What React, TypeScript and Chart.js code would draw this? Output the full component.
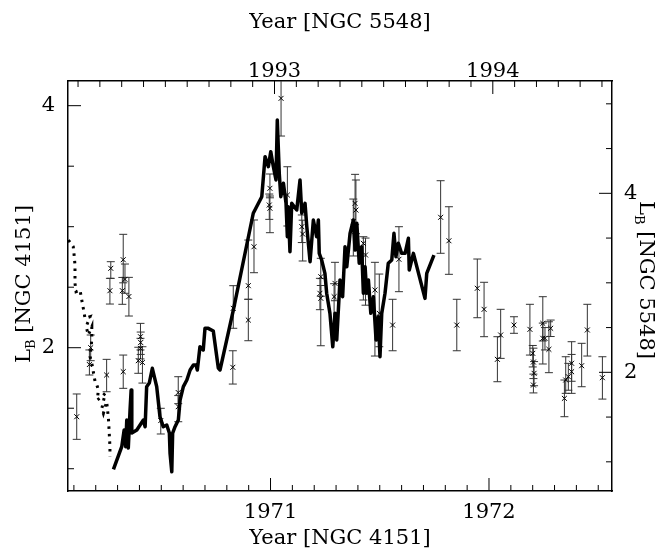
import React, { useEffect, useRef } from "react";
import { Chart, registerables } from "chart.js";

Chart.register(...registerables);

const FONT = "'DejaVu Serif', serif";
const FS = 21;

// NGC 4151 light curve (bottom / left axes)
const lineYears = [
  1970.281, 1970.319, 1970.33, 1970.337, 1970.342, 1970.349, 1970.357, 1970.362, 1970.365, 1970.388,
  1970.418, 1970.426, 1970.433, 1970.445, 1970.459, 1970.479, 1970.494, 1970.509, 1970.525, 1970.537,
  1970.54, 1970.548, 1970.552, 1970.563, 1970.578, 1970.586, 1970.601, 1970.617, 1970.632, 1970.647,
  1970.659, 1970.665, 1970.677, 1970.692, 1970.7, 1970.715, 1970.738, 1970.761, 1970.769, 1970.83,
  1970.921, 1970.96, 1970.975, 1970.99, 1971.001, 1971.013, 1971.025, 1971.031, 1971.04, 1971.047,
  1971.059, 1971.071, 1971.077, 1971.081, 1971.089, 1971.097, 1971.12, 1971.135, 1971.143, 1971.158,
  1971.166, 1971.181, 1971.196, 1971.211, 1971.219, 1971.223, 1971.234, 1971.249, 1971.257, 1971.272,
  1971.285, 1971.295, 1971.303, 1971.318, 1971.33, 1971.341, 1971.349, 1971.364, 1971.379, 1971.387,
  1971.395, 1971.406, 1971.417, 1971.425, 1971.433, 1971.44, 1971.448, 1971.459, 1971.471, 1971.483,
  1971.493, 1971.501, 1971.509, 1971.524, 1971.539, 1971.555, 1971.565, 1971.574, 1971.585, 1971.6,
  1971.616, 1971.631, 1971.635, 1971.654, 1971.707, 1971.715, 1971.748,
];
const lineLum = [
  0.995, 1.182, 1.32, 1.182, 1.402, 1.171, 1.485, 1.65, 1.295, 1.32,
  1.402, 1.347, 1.678, 1.708, 1.83, 1.678, 1.43, 1.347, 1.361, 1.295,
  1.13, 0.975, 1.295, 1.347, 1.402, 1.568, 1.678, 1.733, 1.816, 1.857,
  1.857, 1.816, 2.008, 1.981, 2.16, 2.16, 2.138, 1.832, 1.816, 2.312,
  3.111, 3.248, 3.579, 3.496, 3.62, 3.496, 3.386, 3.882, 3.441, 3.248,
  3.359, 3.193, 2.917, 3.165, 2.793, 3.193, 3.138, 3.386, 3.111, 3.193,
  3.0, 2.711, 3.055, 2.917, 3.055, 2.78, 2.725, 2.615, 2.45, 2.284,
  2.008, 2.284, 2.064, 2.56, 2.421, 2.835, 2.669, 2.945, 3.055, 2.807,
  3.028, 2.698, 2.835, 2.45, 2.669, 2.45, 2.56, 2.284, 2.421, 2.064,
  2.256, 1.926, 2.284, 2.45, 2.698, 2.725, 2.945, 2.752, 2.863, 2.78,
  2.78, 2.904, 2.642, 2.78, 2.408, 2.615, 2.766,
];

// early dotted segment (bottom / left axes)
const dotYears = [
  1970.075, 1970.097, 1970.101, 1970.105, 1970.105, 1970.105, 1970.11, 1970.128, 1970.136, 1970.143,
  1970.151, 1970.174, 1970.156, 1970.166, 1970.182, 1970.182, 1970.174, 1970.182, 1970.197, 1970.205,
  1970.212, 1970.207, 1970.228, 1970.243, 1970.228, 1970.235, 1970.25, 1970.258, 1970.261, 1970.265,
  1970.265,
];
const dotLum = [
  2.89, 2.835, 2.766, 2.683, 2.615, 2.532, 2.463, 2.477, 2.394, 2.326,
  2.243, 2.256, 2.174, 2.105, 2.174, 2.064, 1.926, 1.871, 1.719, 1.692,
  1.65, 1.568, 1.595, 1.623, 1.499, 1.458, 1.554, 1.417, 1.32, 1.182,
  1.099,
];

// NGC 5548 points with error bars (top / right axes)
const ptYears = [
  1992.094, 1992.158, 1992.152, 1992.231, 1992.25, 1992.246, 1992.307, 1992.307, 1992.315, 1992.303,
  1992.333, 1992.386, 1992.387, 1992.376, 1992.395, 1992.386, 1992.479, 1992.559, 1992.559, 1992.809,
  1992.811, 1992.88, 1992.88, 1992.906, 1992.979, 1992.976, 1992.979, 1993.03, 1993.059, 1993.125,
  1993.129, 1993.212, 1993.208, 1993.212, 1993.277, 1993.273, 1993.369, 1993.373, 1993.361, 1993.407,
  1993.417, 1993.46, 1993.48, 1993.541, 1993.57, 1993.761, 1993.799, 1993.835, 1993.929, 1993.96,
  1994.021, 1994.036, 1994.097, 1994.17, 1994.183, 1994.186, 1994.189, 1994.186, 1994.229, 1994.229,
  1994.239, 1994.257, 1994.265, 1994.328, 1994.334, 1994.346, 1994.361, 1994.361, 1994.407, 1994.433,
  1994.502,
];
const ptLum = [
  1.504, 2.275, 2.087, 1.97, 3.162, 2.912, 2.007, 3.258, 3.039, 2.912,
  2.847, 2.398, 2.333, 2.13, 2.11, 2.268, 1.461, 1.774, 1.616, 2.056,
  2.715, 2.968, 2.584, 3.403, 4.056, 3.869, 3.833, 5.061, 3.981, 3.627,
  3.545, 3.068, 2.883, 2.827, 2.994, 2.845, 3.888, 3.813, 3.683, 3.441,
  3.311, 2.92, 2.659, 2.528, 3.263, 3.732, 3.47, 2.528, 2.939, 2.704,
  2.145, 2.417, 2.528, 2.48, 2.212, 2.115, 1.989, 1.858, 2.547, 2.38,
  2.38, 2.257, 2.492, 1.709, 1.914, 1.951, 2.101, 2.007, 2.074, 2.473,
  1.94,
];
const ptLo = [
  1.251, 2.13, 1.97, 1.783, 3.05, 2.763, 1.821, 3.0, 2.883, 2.76,
  2.629, 2.25, 2.2, 1.989, 1.88, 2.15, 1.311, 1.65, 1.448, 1.869,
  2.492, 2.816, 2.353, 3.113, 3.95, 3.709, 3.56, 4.64, 3.635, 3.45,
  3.244, 2.85, 2.7, 2.297, 2.8, 2.54, 3.65, 3.55, 3.3, 2.808,
  2.75, 2.182, 2.286, 2.241, 2.901, 3.33, 3.095, 2.241, 2.61, 2.398,
  1.895, 2.156, 2.436, 2.193, 2.06, 1.93, 1.85, 1.77, 2.35, 2.093,
  2.25, 1.996, 2.4, 1.504, 1.765, 1.8, 1.9, 1.765, 1.839, 2.182,
  1.701,
];
const ptHi = [
  1.758, 2.417, 2.25, 2.145, 3.236, 3.05, 2.193, 3.542, 3.21, 3.06,
  3.061, 2.547, 2.45, 2.28, 2.286, 2.38, 1.598, 1.951, 1.74, 2.241,
  2.968, 3.478, 2.816, 3.702, 4.216, 3.992, 3.97, 5.5, 4.297, 3.758,
  3.7, 3.274, 3.05, 2.97, 3.229, 2.99, 4.212, 4.149, 3.936, 3.515,
  3.5, 3.229, 3.098, 2.816, 3.627, 4.141, 3.85, 2.816, 3.266, 3.006,
  2.398, 2.704, 2.621, 2.76, 2.3, 2.27, 2.12, 1.98, 2.845, 2.55,
  2.5, 2.565, 2.584, 1.914, 2.174, 2.1, 2.342, 2.2, 2.324, 2.76,
  2.174,
];

// axis labels
const bottomLabels = [1971, 1972];
const topLabels = [1993, 1994];
const leftLabels = [2, 4];
const rightLabels = [2, 4];

const X_MIN = 1970.073, X_MAX = 1972.563;
const X2_MIN = 1992.054, X2_MAX = 1994.546;
const Y_MIN = 0.816, Y_MAX = 4.204;
const Y2_MIN = 0.674, Y2_MAX = 5.255;

function steps(a: number, b: number, s: number): number[] {
  const out: number[] = [];
  const n = Math.round((b - a) / s);
  for (let i = 0; i <= n; i++) out.push(+(a + i * s).toFixed(4));
  return out;
}

const bottomMinor = steps(1970.1, 1972.5, 0.1);
const topMinor = steps(1992.1, 1994.5, 0.1);
const leftMinor = steps(1.0, 4.0, 0.5);
const rightMinor = steps(1.0, 5.0, 0.5);

const frameTicks = {
  id: "frameTicks",
  afterDatasetsDraw(chart: any) {
    const { ctx, chartArea: a, scales } = chart;
    ctx.save();
    ctx.strokeStyle = "#000";
    ctx.lineWidth = 1;
    const MAJ = 13, MIN = 6;
    const isMaj = (v: number, majors: number[]) => majors.some((m) => Math.abs(m - v) < 1e-6);
    bottomMinor.forEach((v) => {
      const p = scales.x.getPixelForValue(v);
      const l = isMaj(v, bottomLabels) ? MAJ : MIN;
      ctx.beginPath(); ctx.moveTo(p, a.bottom); ctx.lineTo(p, a.bottom - l); ctx.stroke();
    });
    topMinor.forEach((v) => {
      const p = scales.x2.getPixelForValue(v);
      const l = isMaj(v, topLabels) ? MAJ : MIN;
      ctx.beginPath(); ctx.moveTo(p, a.top); ctx.lineTo(p, a.top + l); ctx.stroke();
    });
    leftMinor.forEach((v) => {
      const p = scales.y.getPixelForValue(v);
      const l = isMaj(v, leftLabels) ? MAJ : MIN;
      ctx.beginPath(); ctx.moveTo(a.left, p); ctx.lineTo(a.left + l, p); ctx.stroke();
    });
    rightMinor.forEach((v) => {
      const p = scales.y2.getPixelForValue(v);
      const l = isMaj(v, rightLabels) ? MAJ : MIN;
      ctx.beginPath(); ctx.moveTo(a.right, p); ctx.lineTo(a.right - l, p); ctx.stroke();
    });
    ctx.restore();
  },
};

const errorBars = {
  id: "errorBars",
  beforeDatasetsDraw(chart: any) {
    const { ctx, chartArea: a, scales } = chart;
    ctx.save();
    ctx.beginPath();
    ctx.rect(a.left, a.top, a.right - a.left, a.bottom - a.top);
    ctx.clip();
    ctx.strokeStyle = "#333";
    ctx.lineWidth = 1;
    ptYears.forEach((yr, i) => {
      const px = scales.x2.getPixelForValue(yr);
      const t = scales.y2.getPixelForValue(ptHi[i]);
      const b = scales.y2.getPixelForValue(ptLo[i]);
      ctx.beginPath();
      ctx.moveTo(px, t); ctx.lineTo(px, b);
      ctx.moveTo(px - 4, t); ctx.lineTo(px + 4, t);
      ctx.moveTo(px - 4, b); ctx.lineTo(px + 4, b);
      ctx.stroke();
    });
    ctx.restore();
  },
};

function drawSubTitle(ctx: any, cx: number, cy: number, rot: number, rest: string) {
  const big = `${FS}px ${FONT}`;
  const small = `13px ${FONT}`;
  ctx.save();
  ctx.translate(cx, cy);
  ctx.rotate(rot);
  ctx.fillStyle = "#000";
  ctx.textAlign = "left";
  ctx.textBaseline = "alphabetic";
  ctx.font = big;
  const wL = ctx.measureText("L").width;
  const wR = ctx.measureText(rest).width;
  ctx.font = small;
  const wB = ctx.measureText("B").width;
  let x = -(wL + wB + wR) / 2;
  ctx.font = big;
  ctx.fillText("L", x, 0);
  x += wL;
  ctx.font = small;
  ctx.fillText("B", x, 5);
  x += wB;
  ctx.font = big;
  ctx.fillText(rest, x, 0);
  ctx.restore();
}

const titles = {
  id: "titles",
  afterDraw(chart: any) {
    const { ctx, chartArea: a } = chart;
    const cx = (a.left + a.right) / 2;
    ctx.save();
    ctx.fillStyle = "#000";
    ctx.font = `${FS}px ${FONT}`;
    ctx.textAlign = "center";
    ctx.textBaseline = "alphabetic";
    ctx.fillText("Year [NGC 5548]", cx, 28);
    ctx.fillText("Year [NGC 4151]", cx, 544);
    ctx.restore();
    drawSubTitle(ctx, 30, (a.top + a.bottom) / 2 - 2, -Math.PI / 2, " [NGC 4151]");
    drawSubTitle(ctx, 640, (a.top + a.bottom) / 2 - 6, Math.PI / 2, " [NGC 5548]");
  },
};

function tickOpts(padding: number) {
  return {
    color: "#000",
    font: { family: FONT, size: FS, lineHeight: 1 },
    autoSkip: false,
    maxRotation: 0,
    minRotation: 0,
    padding,
    callback: (v: any) => String(v),
  };
}

function axis(position: string, min: number, max: number, labels: number[], size: number, padding: number) {
  const horizontal = position === "top" || position === "bottom";
  return {
    type: "linear",
    position,
    min,
    max,
    grid: { display: false, drawTicks: false },
    border: { display: true, color: "#000", width: 1.5 },
    ticks: tickOpts(padding),
    afterBuildTicks: (s: any) => { s.ticks = labels.map((value) => ({ value })); },
    afterFit: (s: any) => {
      if (horizontal) s.height = size; else s.width = size;
    },
  };
}

export default function App() {
  const ref = useRef<HTMLCanvasElement | null>(null);
  useEffect(() => {
    if (!ref.current) return;
    const chart = new Chart(ref.current, {
      type: "scatter",
      data: {
        datasets: [
          {
            data: lineYears.map((x, i) => ({ x, y: lineLum[i] })),
            showLine: true,
            borderColor: "#000",
            borderWidth: 3.5,
            pointRadius: 0,
            borderJoinStyle: "round",
            xAxisID: "x",
            yAxisID: "y",
          },
          {
            data: dotYears.map((x, i) => ({ x, y: dotLum[i] })),
            showLine: true,
            borderColor: "#000",
            borderWidth: 3,
            borderDash: [2.5, 5],
            pointRadius: 0,
            xAxisID: "x",
            yAxisID: "y",
          },
          {
            data: ptYears.map((x, i) => ({ x, y: ptLum[i] })),
            showLine: false,
            pointStyle: "crossRot",
            pointRadius: 3.5,
            borderColor: "#000",
            borderWidth: 1,
            xAxisID: "x2",
            yAxisID: "y2",
          },
        ],
      } as any,
      options: {
        animation: false,
        responsive: true,
        maintainAspectRatio: false,
        layout: { padding: 0 },
        plugins: { legend: { display: false }, tooltip: { enabled: false } },
        scales: {
          x: axis("bottom", X_MIN, X_MAX, bottomLabels, 59, 11.5),
          x2: axis("top", X2_MIN, X2_MAX, topLabels, 81, -1.5),
          y: axis("left", Y_MIN, Y_MAX, leftLabels, 68, 13),
          y2: axis("right", Y2_MIN, Y2_MAX, rightLabels, 50, 12),
        },
      } as any,
      plugins: [errorBars, frameTicks, titles],
    });
    return () => chart.destroy();
  }, []);
  return (
    <div style={{ position: "fixed", left: 0, top: 0, width: 662, height: 550, background: "#fff" }}>
      <canvas ref={ref} />
    </div>
  );
}
